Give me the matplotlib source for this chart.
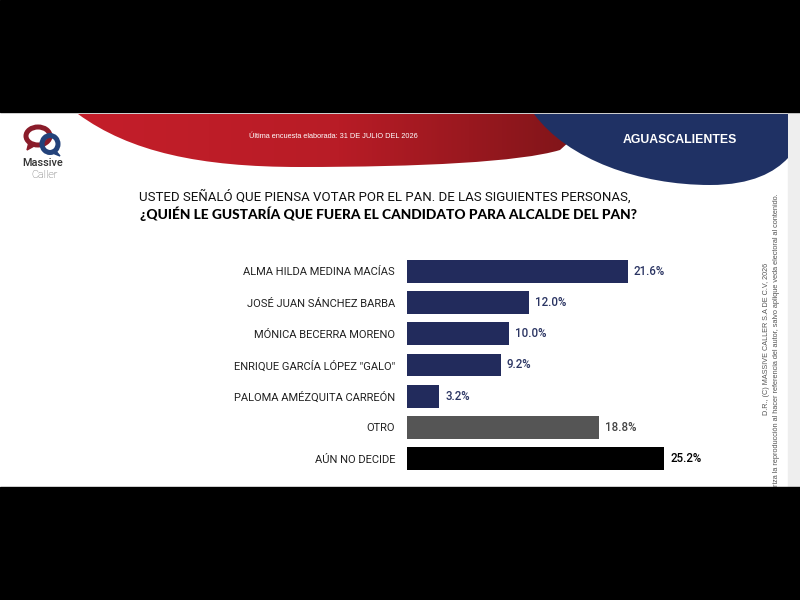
import numpy as np
import matplotlib
matplotlib.use("Agg")
import matplotlib.pyplot as plt
from matplotlib.path import Path
from matplotlib.patches import PathPatch, Rectangle, Ellipse, Polygon
from matplotlib.colors import LinearSegmentedColormap

# ---------------- data ----------------
categories = [
    "ALMA HILDA MEDINA MACÍAS",
    "JOSÉ JUAN SÁNCHEZ BARBA",
    "MÓNICA BECERRA MORENO",
    'ENRIQUE GARCÍA LÓPEZ "GALO"',
    "PALOMA AMÉZQUITA CARREÓN",
    "OTRO",
    "AÚN NO DECIDE",
]
values = [21.6, 12.0, 10.0, 9.2, 3.2, 18.8, 25.2]
value_labels = ["21.6%", "12.0%", "10.0%", "9.2%", "3.2%", "18.8%", "25.2%"]
bar_colors = ["#222b5c"] * 5 + ["#555555", "#000000"]
label_colors = ["#2a3462"] * 5 + ["#444444", "#000000"]

title1 = "USTED SEÑALÓ QUE PIENSA VOTAR POR EL PAN. DE LAS SIGUIENTES PERSONAS,"
title2 = "¿QUIÉN LE GUSTARÍA QUE FUERA EL CANDIDATO PARA ALCALDE DEL PAN?"
survey_date = "Última encuesta elaborada: 31 DE JULIO DEL 2026"
state = "AGUASCALIENTES"
copyright1 = "D.R., (C) MASSIVE CALLER S.A DE C.V, 2026"
copyright2 = "Se autoriza la reproducción al hacer referencia del autor, salvo aplique veda electoral al contenido."

W, H = 800, 600
fig = plt.figure(figsize=(8, 6), dpi=100)
fig.patch.set_facecolor("white")

# overlay axes in pixel coordinates (y downward)
ov = fig.add_axes([0, 0, 1, 1], zorder=0)
ov.set_xlim(0, W)
ov.set_ylim(H, 0)
ov.axis("off")

# light gray strip at right
ov.add_patch(Rectangle((788, 112), 12, 375, color="#eeeeee", zorder=1))

# red swoosh with gradient
red_verts = [(78, 114), (130, 152), (200, 167), (300, 167),
             (420, 167), (520, 162), (560, 150), (600, 114), (78, 114)]
red_codes = [Path.MOVETO, Path.CURVE4, Path.CURVE4, Path.CURVE4,
             Path.CURVE4, Path.CURVE4, Path.CURVE4, Path.LINETO, Path.CLOSEPOLY]
red_patch = PathPatch(Path(red_verts, red_codes), facecolor="none",
                      edgecolor="none", zorder=2)
ov.add_patch(red_patch)
grad = np.linspace(0, 1, 256).reshape(1, -1)
rcmap = LinearSegmentedColormap.from_list("r", ["#c41e2a", "#b81c26", "#7a1418"])
im = ov.imshow(grad, extent=(78, 600, 170, 112), cmap=rcmap, aspect="auto", zorder=2)
im.set_clip_path(red_patch)

# navy swoosh
navy_verts = [(534, 114), (568, 160), (640, 185), (710, 185),
              (752, 185), (775, 172), (788, 158), (788, 114), (534, 114)]
navy_codes = [Path.MOVETO, Path.CURVE4, Path.CURVE4, Path.CURVE4,
              Path.CURVE4, Path.CURVE4, Path.CURVE4, Path.LINETO, Path.CLOSEPOLY]
ov.add_patch(PathPatch(Path(navy_verts, navy_codes), facecolor="#1f3164",
                       edgecolor="none", zorder=3))

# black letterbox bands
ov.add_patch(Rectangle((0, 0), W, 112, color="black", zorder=6))
ov.add_patch(Rectangle((0, 487), W, 113, color="black", zorder=6))

ov.text(333, 137, survey_date, color="white", fontsize=5.3, ha="center",
        va="center", family="Liberation Sans", zorder=4)
ov.text(680, 140, state, color="white", fontsize=8.8, ha="center",
        va="center", family="Liberation Sans", weight="bold", zorder=4)

# logo
ov.add_patch(Ellipse((38, 136), 24, 18, fill=False, lw=3.6, edgecolor="#8a1c2a", zorder=4))
ov.add_patch(Polygon([(29, 142), (27, 150), (36, 145)], color="#8a1c2a", zorder=4))
ov.add_patch(Ellipse((50, 144), 16, 17, fill=False, lw=3.6, edgecolor="#23427a", zorder=5))
ov.add_patch(Polygon([(55, 150), (60, 156), (50, 152)], color="#23427a", zorder=5))
ov.text(43, 163, "Massive", fontsize=7.8, ha="center", va="center",
        color="#333333", family="Roboto", weight="medium", zorder=4)
ov.text(44, 175.5, "Caller", fontsize=7.8, ha="center", va="center",
        color="#555555", family="Roboto", weight="light", zorder=4)

# titles
ov.text(385, 197, title1, fontsize=9.55, ha="center", va="center",
        color="#111111", family="Roboto", zorder=4)
ov.text(388, 214, title2, fontsize=9.9, ha="center", va="center",
        color="#000000", family="Lato", weight="black", zorder=4)

# copyright vertical text
ov.text(767, 339, copyright1, fontsize=5.2, rotation=90, ha="center",
        va="center", color="#555555", family="Liberation Sans", zorder=4)
ov.text(776, 193, copyright2, fontsize=5.3, rotation=90, ha="center",
        va="top", color="#555555", family="Liberation Sans", zorder=4)

# ---------------- bar chart ----------------
x0_px = 406.7
px_per_unit = 10.23
ax_right_px = 740
pitch = 31.23
c_first = 271.3
top_px = c_first - 0.5 * pitch
bot_px = c_first + 6 * pitch + 0.5 * pitch
ax = fig.add_axes([x0_px / W, 1 - bot_px / H,
                   (ax_right_px - x0_px) / W, (bot_px - top_px) / H], zorder=5)
ax.patch.set_alpha(0)
ypos = np.arange(len(categories))
ax.barh(ypos, values, height=0.727, color=bar_colors)
ax.set_xlim(0, (ax_right_px - x0_px) / px_per_unit)
ax.set_ylim(len(categories) - 0.5, -0.5)
ax.set_yticks(ypos)
ax.set_yticklabels(categories, family="Roboto", fontsize=8.0, color="#222222")
ax.tick_params(axis="y", length=0, pad=8.4)
ax.set_xticks([])
for s in ax.spines.values():
    s.set_visible(False)
for i, (v, lab) in enumerate(zip(values, value_labels)):
    ax.text(v + 0.55, i, lab, va="center", ha="left", fontsize=8.3,
            color=label_colors[i], family="Roboto", weight="medium")

fig.savefig("out.png", dpi=100)
